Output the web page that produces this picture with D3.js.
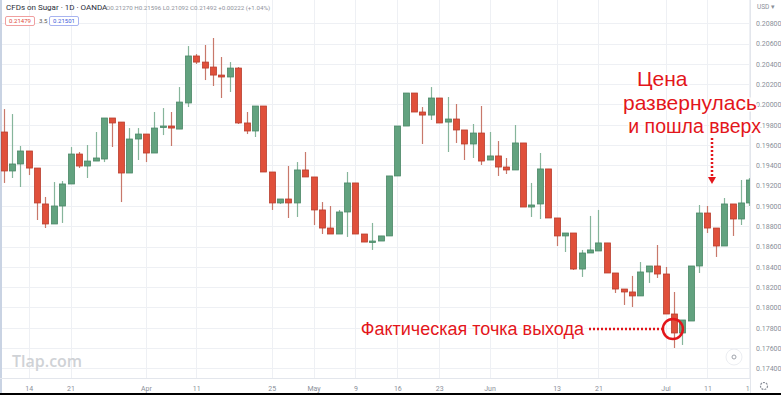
<!DOCTYPE html>
<meta charset="utf-8">
<style>
body { margin: 0; background: #fff; }
svg { display: block; }
.axis text { fill: #8a8f99; font: 7px Roboto, sans-serif; }
.axis path { display: none; }
.note { fill: #e3161b; font-family: "Liberation Sans", Arial, sans-serif;
        stroke: #fff; stroke-width: 3px; paint-order: stroke; }
</style>
<svg width="781" height="395" id="chart"></svg>
<script src="https://cdnjs.cloudflare.com/ajax/libs/d3/7.8.5/d3.min.js"></script>
<script>

// daily candles, 9 Mar .. 18 Jul 2022 (one per trading day)
var opens = [
  0.19729, 0.19345, 0.19414, 0.19542, 0.19374, 0.19020, 0.18823, 0.19000, 0.19217, 0.19512,
  0.19394, 0.19443, 0.19463, 0.19867, 0.19827, 0.19325, 0.19660, 0.19709, 0.19522, 0.19778,
  0.19788, 0.19758, 0.20015, 0.20478, 0.20418, 0.20369, 0.20290, 0.20271, 0.20359, 0.19818,
  0.19739, 0.19985, 0.19335, 0.19030, 0.19069, 0.19030, 0.19355, 0.19286, 0.18961, 0.18783,
  0.18724, 0.18941, 0.19227, 0.18724, 0.18645, 0.18655, 0.18705, 0.19296, 0.19788, 0.20113,
  0.19926, 0.19896, 0.20064, 0.19827, 0.19857, 0.19749, 0.19611, 0.19719, 0.19453, 0.19493,
  0.19384, 0.19355, 0.19621, 0.18990, 0.19020, 0.19365, 0.18882, 0.18705, 0.18734, 0.18379,
  0.18537, 0.18557, 0.18636, 0.18340, 0.18182, 0.18153, 0.18114, 0.18350, 0.18409, 0.18330,
  0.17936, 0.17749, 0.17867, 0.18409, 0.18931, 0.18783, 0.18606, 0.19020, 0.18872, 0.19030
];
var highs = [
  0.19955, 0.19906, 0.19591, 0.19542, 0.19374, 0.19089, 0.19236, 0.19246, 0.19581, 0.19532,
  0.19601, 0.19729, 0.19867, 0.19867, 0.19827, 0.19768, 0.19768, 0.19709, 0.19926, 0.19965,
  0.19926, 0.20172, 0.20576, 0.20497, 0.20586, 0.20655, 0.20468, 0.20418, 0.20369, 0.19926,
  0.19985, 0.19985, 0.19335, 0.19069, 0.19394, 0.19433, 0.19532, 0.19286, 0.19039, 0.19000,
  0.18961, 0.19335, 0.19227, 0.18724, 0.18833, 0.18705, 0.19296, 0.19788, 0.20113, 0.20113,
  0.19975, 0.20172, 0.20064, 0.20074, 0.20005, 0.19749, 0.19808, 0.19985, 0.19729, 0.19640,
  0.19473, 0.19798, 0.19621, 0.19227, 0.19522, 0.19365, 0.18882, 0.18734, 0.18734, 0.18567,
  0.18902, 0.18961, 0.18636, 0.18340, 0.18182, 0.18311, 0.18448, 0.18409, 0.18616, 0.18399,
  0.18153, 0.17877, 0.18409, 0.19010, 0.19000, 0.18783, 0.19079, 0.19020, 0.19256, 0.19276
];
var lows = [
  0.19227, 0.19276, 0.19187, 0.19305, 0.18862, 0.18783, 0.18823, 0.18833, 0.19217, 0.19374,
  0.19276, 0.19443, 0.19433, 0.19581, 0.19039, 0.19325, 0.19453, 0.19433, 0.19522, 0.19699,
  0.19591, 0.19758, 0.19975, 0.20399, 0.20241, 0.20182, 0.20064, 0.20123, 0.19808, 0.19709,
  0.19680, 0.19335, 0.18961, 0.19020, 0.18882, 0.18892, 0.19286, 0.18813, 0.18724, 0.18724,
  0.18724, 0.18695, 0.18724, 0.18645, 0.18567, 0.18655, 0.18705, 0.19296, 0.19788, 0.19926,
  0.19611, 0.19847, 0.19818, 0.19532, 0.19621, 0.19453, 0.19473, 0.19404, 0.19453, 0.19296,
  0.19315, 0.19355, 0.18990, 0.18892, 0.18872, 0.18882, 0.18606, 0.18547, 0.18370, 0.18301,
  0.18537, 0.18557, 0.18340, 0.18143, 0.18025, 0.18005, 0.18114, 0.18242, 0.18291, 0.17936,
  0.17601, 0.17631, 0.17867, 0.18340, 0.18734, 0.18498, 0.18606, 0.18705, 0.18813, 0.19000
];
var closes = [
  0.19345, 0.19414, 0.19542, 0.19374, 0.19030, 0.18823, 0.19000, 0.19217, 0.19512, 0.19394,
  0.19443, 0.19473, 0.19867, 0.19818, 0.19325, 0.19660, 0.19709, 0.19522, 0.19768, 0.19788,
  0.19768, 0.20024, 0.20478, 0.20418, 0.20359, 0.20290, 0.20271, 0.20359, 0.19818, 0.19739,
  0.19985, 0.19335, 0.19030, 0.19069, 0.19030, 0.19355, 0.19286, 0.18961, 0.18783, 0.18724,
  0.18941, 0.19227, 0.18724, 0.18645, 0.18655, 0.18705, 0.19296, 0.19788, 0.20113, 0.19926,
  0.19896, 0.20064, 0.19818, 0.19857, 0.19749, 0.19611, 0.19719, 0.19443, 0.19493, 0.19384,
  0.19355, 0.19621, 0.18990, 0.19010, 0.19365, 0.18882, 0.18705, 0.18734, 0.18379, 0.18537,
  0.18567, 0.18636, 0.18340, 0.18182, 0.18153, 0.18114, 0.18350, 0.18409, 0.18330, 0.17936,
  0.17749, 0.17877, 0.18409, 0.18931, 0.18783, 0.18606, 0.19020, 0.18872, 0.19030, 0.19256
];

var priceTicks = [0.174, 0.176, 0.178, 0.180, 0.182, 0.184, 0.186, 0.188, 0.190,
                  0.192, 0.194, 0.196, 0.198, 0.200, 0.202, 0.204, 0.206, 0.208];
var dateLabels = ["14", "21", "Apr", "11", "25", "May", "9", "16", "23", "Jun", "13", "21", "Jul", "11", "18"];
var dateIdx    = [3, 8, 17, 23, 32, 37, 42, 47, 52, 58, 66, 71, 79, 84, 89];

var exitIdx = 80, turnIdx = 83;

var svg = d3.select("svg#chart"),
    width = +svg.attr("width"),
    height = +svg.attr("height"),
    plotW = 750, plotH = 378;

var x = d3.scaleLinear().domain([0, 89]).range([3.5, 749.3]),
    y = d3.scaleLinear().domain([0.174, 0.208]).range([368.4, 23.3]);

var candles = opens.map(function(o, i) {
  return {i: i, o: o, h: highs[i], l: lows[i], c: closes[i]};
});

svg.append("defs").append("clipPath").attr("id", "plot")
  .append("rect").attr("width", plotW).attr("height", plotH);

// grid
var grid = svg.append("g").attr("clip-path", "url(#plot)");
grid.selectAll("line.h").data(priceTicks).enter().append("line")
    .attr("x1", 0).attr("x2", plotW)
    .attr("y1", function(d) { return Math.round(y(d)) + 0.5; })
    .attr("y2", function(d) { return Math.round(y(d)) + 0.5; })
    .attr("stroke", "#eef0f4");
grid.selectAll("line.v").data(dateIdx).enter().append("line")
    .attr("y1", 0).attr("y2", plotH)
    .attr("x1", function(d) { return Math.round(x(d)) + 0.5; })
    .attr("x2", function(d) { return Math.round(x(d)) + 0.5; })
    .attr("stroke", "#eef0f4");

// left edge strip
svg.append("rect").attr("x", 0).attr("y", 0).attr("width", 2).attr("height", 393).attr("fill", "#c9d3e3");

// watermark
svg.append("text").attr("x", 12).attr("y", 367)
    .style("font", "600 16px 'Open Sans', sans-serif").attr("fill", "#cfd2d6")
    .text("Tlap.com");

// candles
var cg = svg.append("g").attr("clip-path", "url(#plot)");
var candle = cg.selectAll(".candle").data(candles).enter().append("g").attr("class", "candle");

candle.append("line")
    .attr("x1", function(d) { return Math.round(x(d.i)) + 0.5; })
    .attr("x2", function(d) { return Math.round(x(d.i)) + 0.5; })
    .attr("y1", function(d) { return y(d.h); })
    .attr("y2", function(d) { return y(d.l); })
    .attr("stroke", function(d) { return d.c >= d.o ? "#86b59b" : "#c8786b"; })
    .attr("stroke-width", 1.2);

candle.append("rect")
    .attr("x", function(d) { return Math.round(x(d.i)) - 2.5; })
    .attr("width", 6)
    .attr("y", function(d) { return y(Math.max(d.o, d.c)); })
    .attr("height", function(d) { return Math.max(1.5, Math.abs(y(d.o) - y(d.c))); })
    .attr("fill", function(d) { return d.c >= d.o ? "#62a27f" : "#e0503b"; })
    .attr("stroke", function(d) { return d.c >= d.o ? "#4a8767" : "#b83d2d"; })
    .attr("stroke-width", 0.8);

// bottom axis
svg.append("line").attr("x1", 0).attr("x2", width).attr("y1", 378.5).attr("y2", 378.5).attr("stroke", "#e3e6ec");
svg.append("g").attr("class", "axis")
    .attr("transform", "translate(0,381)")
    .call(d3.axisBottom(x).tickValues(dateIdx).tickSize(0).tickPadding(5)
          .tickFormat(function(d, i) { return dateLabels[i]; }));

// price scale panel
svg.append("rect").attr("x", plotW).attr("y", 0).attr("width", width - plotW).attr("height", 393).attr("fill", "#fff");
svg.append("line").attr("x1", plotW + 0.5).attr("x2", plotW + 0.5).attr("y1", 0).attr("y2", 393).attr("stroke", "#e3e6ec");
svg.append("g").attr("class", "axis")
    .attr("transform", "translate(" + (plotW + 3) + ",0)")
    .call(d3.axisRight(y).tickValues(priceTicks).tickSize(0).tickPadding(3)
          .tickFormat(d3.format(".5f")));
svg.append("text").attr("x", 757).attr("y", 9).attr("fill", "#8a8f99")
    .style("font", "6.5px Roboto, sans-serif").text("USD ▾");

// little buttons
svg.append("circle").attr("cx", 734).attr("cy", 357).attr("r", 8)
    .attr("fill", "#fff").attr("stroke", "#eceef2");
svg.append("circle").attr("cx", 734).attr("cy", 357).attr("r", 2)
    .attr("fill", "none").attr("stroke", "#a0a4ac");
svg.append("circle").attr("cx", 764).attr("cy", 386).attr("r", 3.5)
    .attr("fill", "none").attr("stroke", "#8a8f99").attr("stroke-width", 1.2)
    .attr("stroke-dasharray", "2,1");

// bottom black band
svg.append("rect").attr("x", 0).attr("y", 393).attr("width", width).attr("height", 2).attr("fill", "#000");

// header
var hdr = svg.append("g").style("font-family", "Roboto, sans-serif");
hdr.append("text").attr("x", 6).attr("y", 10).attr("fill", "#2a2e39")
    .style("font-size", "8px").text("CFDs on Sugar · 1D · OANDA");
hdr.append("text").attr("x", 106).attr("y", 10).attr("fill", "#8f939c")
    .style("font-size", "6.2px").text("O0.21270  H0.21596  L0.21092  C0.21492  +0.00222 (+1.04%)");
hdr.append("rect").attr("x", 5.5).attr("y", 16.5).attr("width", 29).attr("height", 9).attr("rx", 1.5)
    .attr("fill", "#fff").attr("stroke", "#f0a0a0");
hdr.append("text").attr("x", 20).attr("y", 23.3).attr("text-anchor", "middle").attr("fill", "#e0473a")
    .style("font-size", "6px").text("0.21479");
hdr.append("text").attr("x", 39).attr("y", 23.3).attr("fill", "#555")
    .style("font-size", "6px").text("3.5");
hdr.append("rect").attr("x", 49.5).attr("y", 16.5).attr("width", 29).attr("height", 9).attr("rx", 1.5)
    .attr("fill", "#fff").attr("stroke", "#a8b4f0");
hdr.append("text").attr("x", 64).attr("y", 23.3).attr("text-anchor", "middle").attr("fill", "#3b5bdb")
    .style("font-size", "6px").text("0.21501");

// annotations
var red = "#e3161b";
var ann = svg.append("g");
ann.append("text").attr("class", "note").attr("x", 637).attr("y", 86).style("font-size", "21px").text("Цена");
ann.append("text").attr("class", "note").attr("x", 757).attr("y", 110).attr("text-anchor", "end")
    .style("font-size", "21px").text("развернулась");
ann.append("text").attr("class", "note").attr("x", 761).attr("y", 133).attr("text-anchor", "end")
    .style("font-size", "19.5px").text("и пошла вверх");

var ax = Math.round(x(turnIdx + 1.6));
ann.append("line").attr("x1", ax).attr("x2", ax).attr("y1", 138).attr("y2", 177)
    .attr("stroke", red).attr("stroke-width", 2.5).attr("stroke-dasharray", "2,2");
ann.append("path")
    .attr("d", "M" + (ax - 4) + ",177L" + (ax + 4) + ",177L" + ax + ",184Z")
    .attr("fill", red);

ann.append("text").attr("class", "note").attr("x", 584).attr("y", 335).attr("text-anchor", "end")
    .style("font-size", "18px").text("Фактическая точка выхода");
var cx = x(exitIdx) - 1, cy = 329;
ann.append("line").attr("x1", 589).attr("x2", cx - 11).attr("y1", cy).attr("y2", cy)
    .attr("stroke", red).attr("stroke-width", 2.5).attr("stroke-dasharray", "2,2");
ann.append("circle").attr("cx", cx).attr("cy", cy).attr("r", 10)
    .attr("fill", "none").attr("stroke", red).attr("stroke-width", 2.5);

</script>
